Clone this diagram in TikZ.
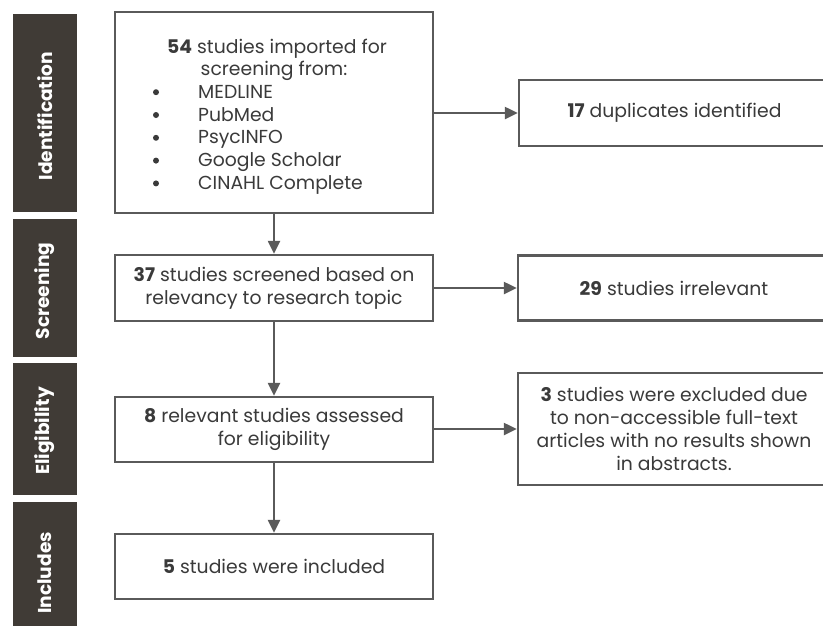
\documentclass[tikz,border=0pt]{standalone}
\usepackage{fontspec}
\setmainfont{Poppins}
\usetikzlibrary{arrows.meta}
\definecolor{barc}{HTML}{403B36}
\definecolor{linec}{HTML}{5A5A5A}
\definecolor{txtc}{HTML}{3A3A3A}
\tikzset{
  box/.style={draw=linec, line width=2.5pt, fill=white, inner sep=0pt, text=txtc,
    font=\fontsize{18.8}{22.8}\selectfont, align=center},
  bar/.style={fill=barc, draw=none},
  barlabel/.style={text=white, rotate=90, font=\fontsize{18.6}{20}\selectfont\bfseries},
  conn/.style={draw=linec, line width=2.5pt, -{Triangle[length=13pt,width=12pt]}},
  itemtxt/.style={anchor=base west, inner sep=0pt, text=txtc, font=\fontsize{18.8}{22.8}\selectfont},
  titletxt/.style={anchor=base, inner sep=0pt, text=txtc, font=\fontsize{18.8}{22.8}\selectfont},
  dotc/.style={fill=txtc, draw=none},
}
\begin{document}
\begin{tikzpicture}[x=1pt,y=-1pt]
\clip (0,0) rectangle (823,625);
\fill[white] (0,0) rectangle (823,625);
% side bars
\fill[bar] (13,14) rectangle (77,212);
\fill[bar] (13,219) rectangle (77,357);
\fill[bar] (13,363) rectangle (77,495);
\fill[bar] (13,502) rectangle (77,640);
\node[barlabel] (lid) at (45,116) {Identification};
\node[barlabel] (lsc) at (45,291) {Screening};
\node[barlabel] (lel) at (45,431) {Eligibility};
\node[barlabel] (lin) at (45,573) {Includes};
% main boxes
\node[box, minimum width=318pt, minimum height=201pt] (b1) at (274,112.5) {};
\node[titletxt] (t1a) at (277,53) {\textbf{54} studies imported for};
\node[titletxt] (t1b) at (274,75.7) {screening from:};
\foreach \i/\t in {0/MEDLINE,1/PubMed,2/PsycINFO,3/Google Scholar,4/CINAHL Complete}{
  \node[itemtxt] (it\i) at (198,{98.2+22.8*\i}) {\t};
  \fill[dotc] (156,{98.2+22.8*\i-6}) circle (3);
}
\node[box, minimum width=318pt, minimum height=66pt] (b2) at (274,288) {\textbf{37} studies screened based on\\relevancy to research topic};
\node[box, minimum width=318pt, minimum height=65pt] (b3) at (274,429.5) {\textbf{8} relevant studies assessed\\for eligibility};
\node[box, minimum width=318pt, minimum height=65pt] (b4) at (274,566.5) {\textbf{5} studies were included};
% right boxes
\node[box, minimum width=311pt, minimum height=66pt] (r1) at (674.5,113) {\textbf{17} duplicates identified};
\node[box, minimum width=312pt, minimum height=65pt] (r2) at (674,288) {\textbf{29} studies irrelevant};
\node[box, minimum width=312pt, minimum height=112pt] (r3) at (674,429) {\textbf{3} studies were excluded due\\to non-accessible full-text\\articles with no results shown\\in abstracts.};
% connectors
\draw[conn] (b1) -- (b2);
\draw[conn] (b2) -- (b3);
\draw[conn] (b3) -- (b4);
\draw[conn] (b1.east |- r1.west) -- (r1.west);
\draw[conn] (b2.east |- r2.west) -- (r2.west);
\draw[conn] (b3.east |- r3.west) -- (r3.west);
\end{tikzpicture}
\end{document}
